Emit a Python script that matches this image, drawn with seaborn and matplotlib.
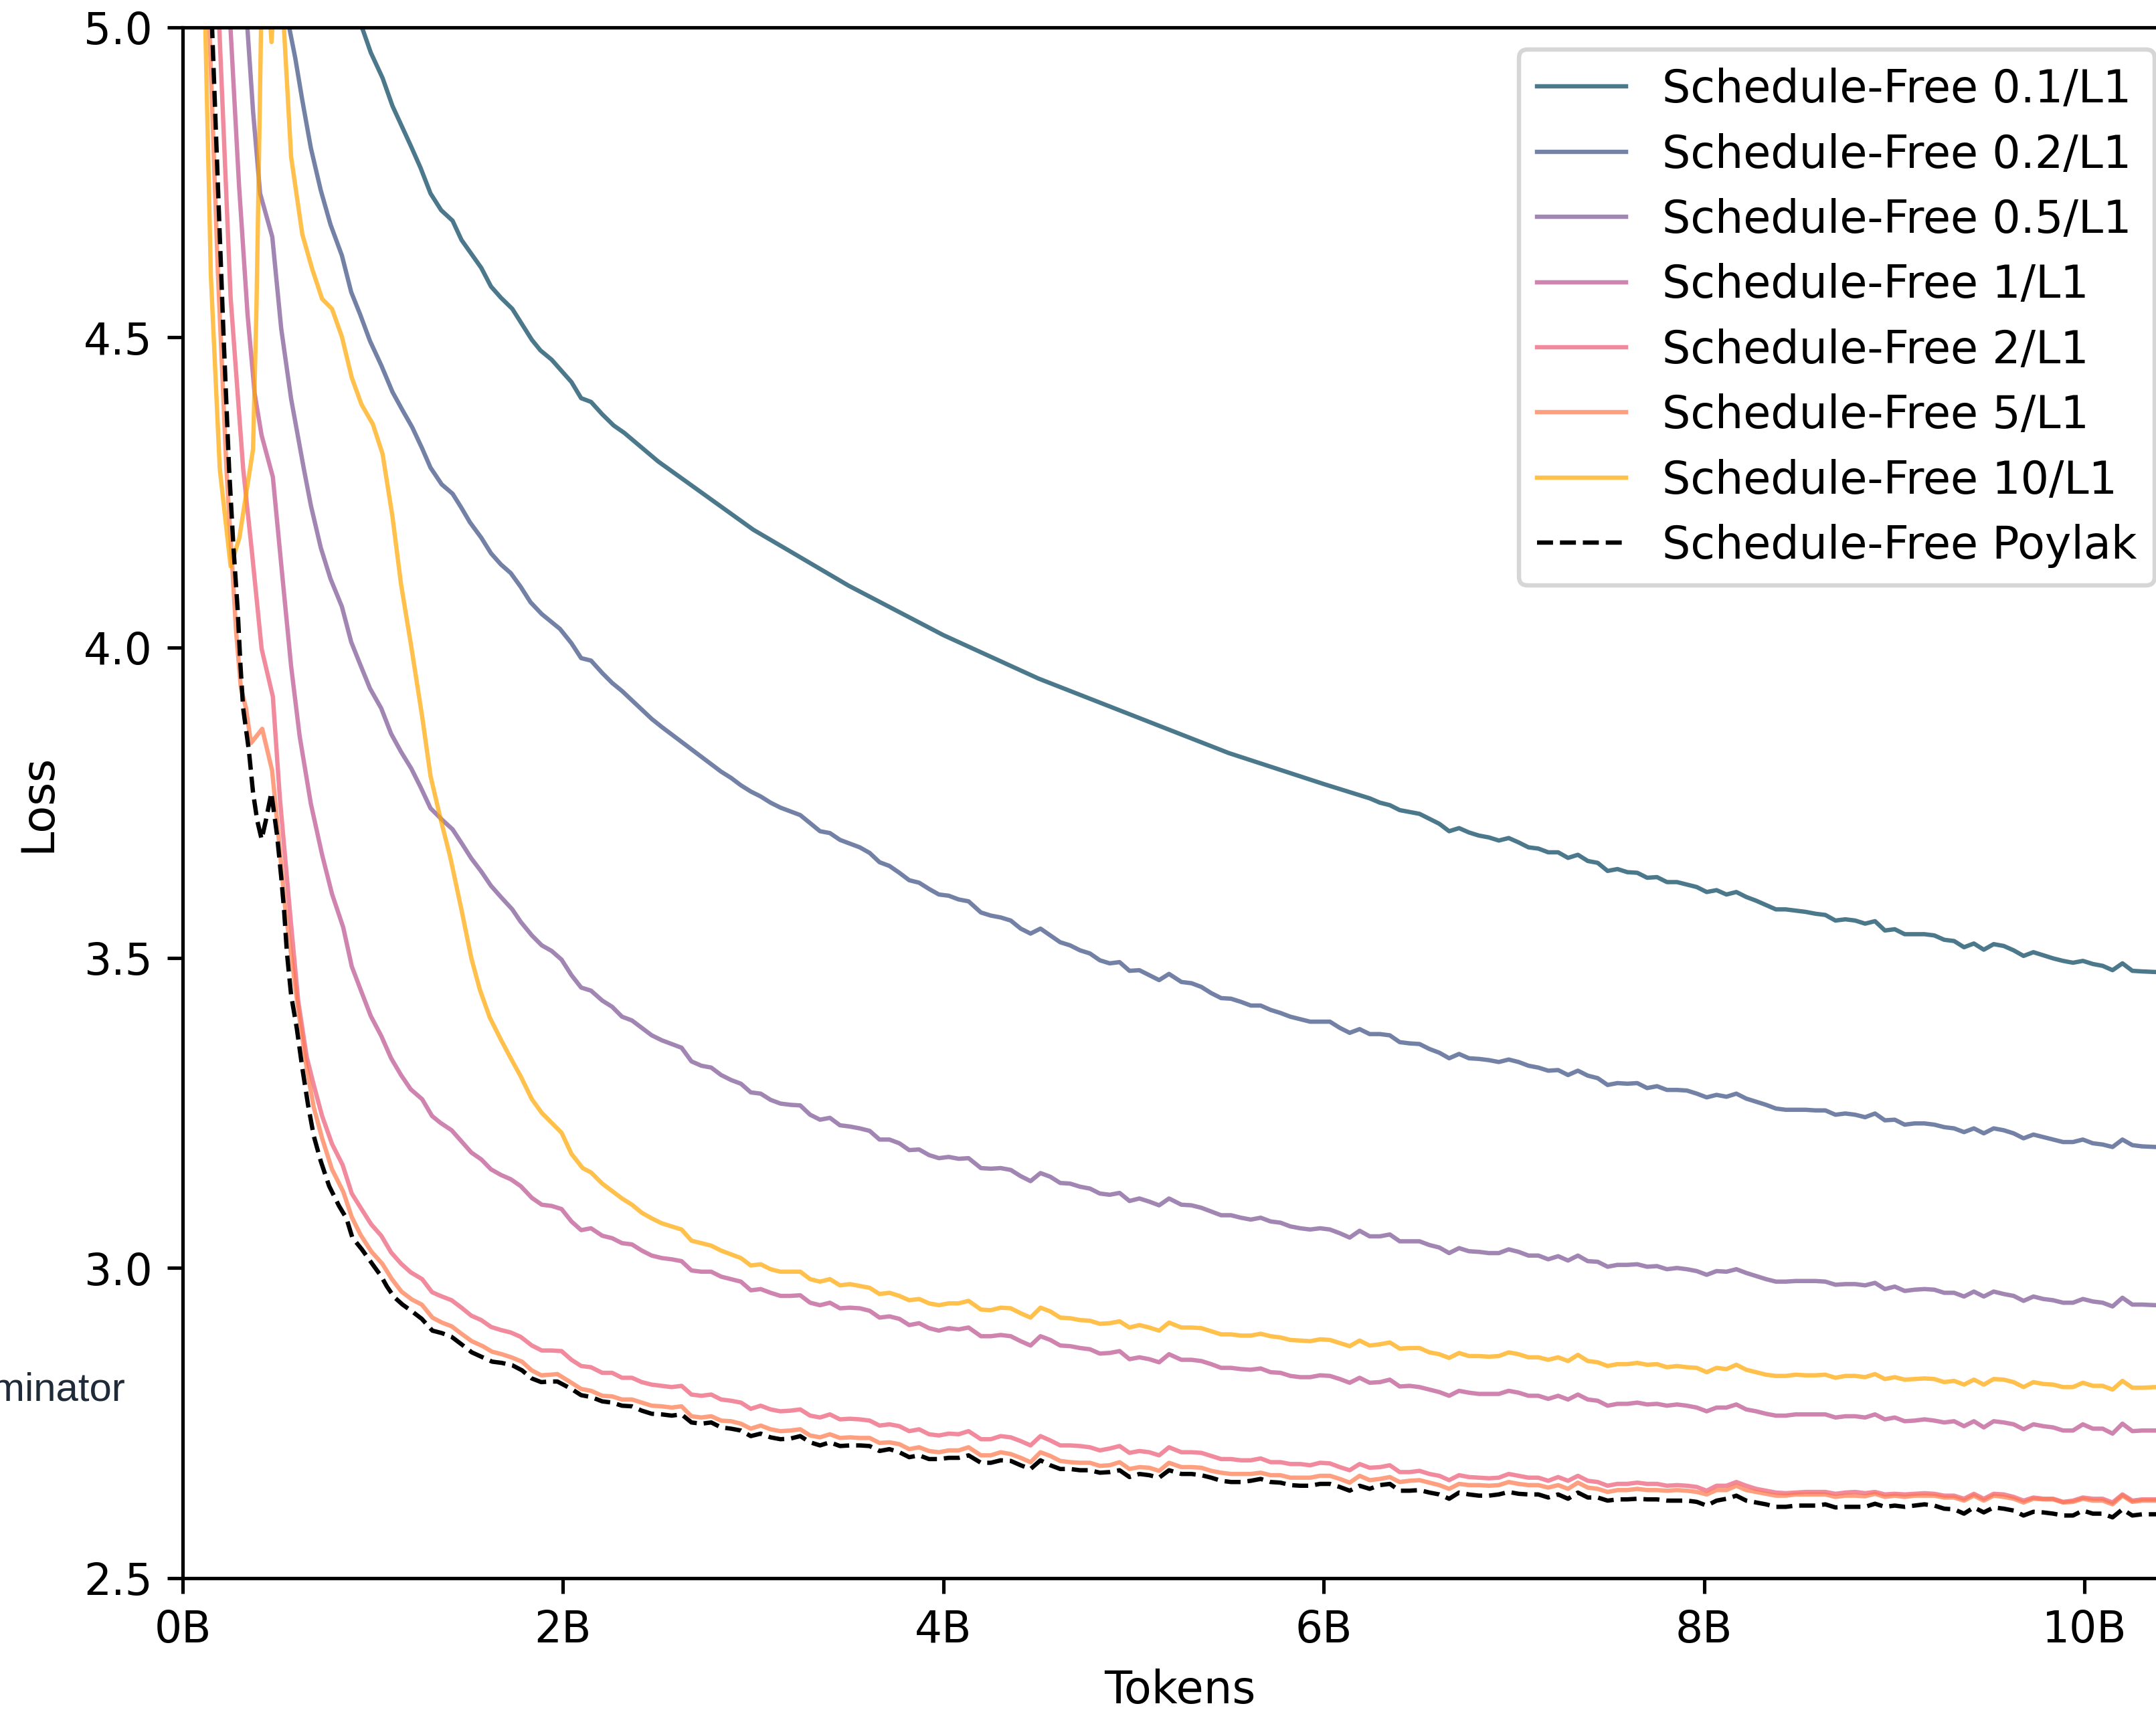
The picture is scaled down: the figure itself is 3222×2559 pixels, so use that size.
import matplotlib
matplotlib.use("Agg")
import matplotlib.pyplot as plt
import numpy as np
import pandas as pd
import seaborn as sns

# ---------------------------------------------------------------- data
LABELS = [
    "Schedule-Free 0.1/L1",
    "Schedule-Free 0.2/L1",
    "Schedule-Free 0.5/L1",
    "Schedule-Free 1/L1",
    "Schedule-Free 2/L1",
    "Schedule-Free 5/L1",
    "Schedule-Free 10/L1",
    "Schedule-Free Poylak",
]

# evaluation points (billions of tokens) shared by the later part of every run
TOKENS_A = [2.206, 2.258, 2.310, 2.362, 2.414, 2.466, 2.519, 2.571, 2.623, 2.675,
            2.727, 2.779, 2.831, 2.883, 2.935, 2.987, 3.039, 3.091, 3.143, 3.195,
            3.247, 3.299, 3.351, 3.403, 3.456, 3.508, 3.560, 3.612, 3.664, 3.716,
            3.768, 3.820, 3.872, 3.924, 3.976, 4.028, 4.080, 4.132,
            4.197, 4.249, 4.301, 4.354, 4.406, 4.458, 4.510, 4.562, 4.614, 4.666,
            4.718, 4.770, 4.822, 4.874, 4.926, 4.978, 5.030, 5.082, 5.134, 5.186,
            5.251, 5.304, 5.356, 5.408, 5.460, 5.512, 5.564, 5.616, 5.668, 5.720,
            5.772, 5.824, 5.876, 5.928, 5.980, 6.032, 6.084, 6.136, 6.188, 6.241]
TOKENS_B = [6.295, 6.347, 6.399, 6.451, 6.503, 6.555, 6.607, 6.659, 6.711, 6.763,
            6.815, 6.868, 6.920, 6.972, 7.024, 7.076, 7.128, 7.180, 7.232, 7.284,
            7.336, 7.388, 7.440, 7.492, 7.544, 7.596, 7.648, 7.700, 7.752, 7.804,
            7.857, 7.909, 7.961, 8.013, 8.065, 8.117, 8.169, 8.221, 8.273, 8.325,
            8.377, 8.429, 8.481, 8.533, 8.585, 8.637, 8.690, 8.742, 8.794, 8.846,
            8.898, 8.950, 9.002, 9.054, 9.106, 9.158, 9.210, 9.262, 9.314, 9.366,
            9.418, 9.470, 9.522, 9.575, 9.627, 9.679, 9.731, 9.783, 9.835, 9.887,
            9.939, 9.991, 10.043, 10.095, 10.147, 10.199, 10.251, 10.303, 10.376]

# ---- Schedule-Free 0.1/L1
lr01_early_x = [0.896, 0.948, 0.989, 1.051, 1.103, 1.199, 1.251, 1.303, 1.359, 1.419,
                1.466, 1.570, 1.621, 1.673, 1.733, 1.836, 1.881, 1.940, 2.044, 2.095, 2.147]
lr01_early_y = [5.03, 4.995, 4.959, 4.918, 4.873, 4.809, 4.773, 4.732, 4.705, 4.688,
                4.657, 4.612, 4.582, 4.564, 4.546, 4.496, 4.479, 4.464, 4.428, 4.402, 4.396]
lr01_mid_x = [2.206, 2.266, 2.322, 2.5, 2.75, 3.0, 3.25, 3.5, 3.75, 4.0, 4.25, 4.5,
              4.75, 5.0, 5.25, 5.5, 5.75, 6.0, 6.241]
lr01_mid_y = [4.376, 4.358, 4.346, 4.30, 4.245, 4.19, 4.145, 4.10, 4.06, 4.02, 3.985,
              3.95, 3.92, 3.89, 3.86, 3.83, 3.805, 3.78, 3.757]
lr01_late = [3.750, 3.746, 3.738, 3.735, 3.732, 3.724, 3.716, 3.704, 3.709, 3.702,
             3.697, 3.694, 3.689, 3.693, 3.686, 3.678, 3.676, 3.670, 3.670, 3.661,
             3.666, 3.656, 3.653, 3.640, 3.643, 3.638, 3.637, 3.629, 3.630, 3.622,
             3.622, 3.618, 3.614, 3.606, 3.609, 3.602, 3.606, 3.598, 3.592, 3.585,
             3.578, 3.578, 3.576, 3.574, 3.571, 3.569, 3.560, 3.562, 3.560, 3.555,
             3.559, 3.544, 3.546, 3.538, 3.538, 3.538, 3.536, 3.529, 3.527, 3.517,
             3.523, 3.513, 3.522, 3.519, 3.512, 3.503, 3.509, 3.504, 3.499, 3.495,
             3.492, 3.495, 3.490, 3.487, 3.480, 3.491, 3.479, 3.478, 3.477]

# ---- Schedule-Free 0.2/L1
lr02_early_x = [0.52, 0.563, 0.592, 0.629, 0.674, 0.726, 0.777, 0.837, 0.886, 0.933,
                0.985, 1.044, 1.103, 1.155, 1.207, 1.259, 1.303, 1.362, 1.419, 1.466,
                1.510, 1.570, 1.621, 1.673, 1.725, 1.777, 1.829, 1.888, 1.932, 1.984,
                2.044, 2.095, 2.147]
lr02_early_y = [5.06, 4.995, 4.950, 4.882, 4.805, 4.737, 4.682, 4.632, 4.573, 4.537,
                4.494, 4.455, 4.412, 4.383, 4.355, 4.321, 4.290, 4.263, 4.248, 4.225,
                4.202, 4.177, 4.152, 4.134, 4.120, 4.098, 4.073, 4.054, 4.043, 4.030,
                4.007, 3.983, 3.979]
lr02_mid = [3.959, 3.943, 3.930, 3.915, 3.900, 3.885, 3.872, 3.860, 3.848, 3.836,
            3.824, 3.812, 3.800, 3.790, 3.778, 3.768, 3.760]
lr02_a = [3.750, 3.742, 3.736, 3.730, 3.717, 3.704, 3.701, 3.690, 3.684, 3.678,
          3.669, 3.654, 3.648, 3.637, 3.625, 3.621, 3.611, 3.602, 3.600, 3.594, 3.591,
          3.573, 3.568, 3.565, 3.560, 3.547, 3.539, 3.547, 3.536, 3.525, 3.520,
          3.512, 3.507, 3.496, 3.491, 3.493, 3.479, 3.480, 3.472, 3.464, 3.474,
          3.461, 3.459, 3.453, 3.443, 3.435, 3.434, 3.429, 3.423, 3.423, 3.416,
          3.411, 3.405, 3.401, 3.397, 3.397, 3.397, 3.387, 3.379, 3.385, 3.377]
lr02_late = [3.377, 3.375, 3.364, 3.362, 3.361, 3.353, 3.347, 3.338, 3.345, 3.338,
             3.337, 3.335, 3.332, 3.336, 3.332, 3.326, 3.323, 3.318, 3.319, 3.311,
             3.318, 3.310, 3.306, 3.295, 3.298, 3.297, 3.298, 3.290, 3.293, 3.287,
             3.287, 3.286, 3.281, 3.275, 3.279, 3.276, 3.281, 3.273, 3.268, 3.263,
             3.257, 3.255, 3.255, 3.255, 3.254, 3.254, 3.247, 3.249, 3.247, 3.243,
             3.249, 3.238, 3.239, 3.231, 3.233, 3.233, 3.231, 3.227, 3.225, 3.219,
             3.225, 3.217, 3.225, 3.222, 3.217, 3.209, 3.215, 3.211, 3.207, 3.203,
             3.203, 3.207, 3.201, 3.199, 3.195, 3.207, 3.198, 3.196, 3.195]

# ---- Schedule-Free 0.5/L1
lr05_early_x = [0.30, 0.341, 0.370, 0.407, 0.471, 0.518, 0.570, 0.637, 0.674, 0.726,
                0.777, 0.837, 0.886, 0.933, 0.985, 1.044, 1.096, 1.148, 1.202, 1.251,
                1.303, 1.362, 1.419, 1.466, 1.518, 1.570, 1.621, 1.673, 1.733, 1.777,
                1.836, 1.888, 1.940, 1.992, 2.044, 2.095, 2.147]
lr05_early_y = [5.15, 4.995, 4.864, 4.732, 4.662, 4.514, 4.401, 4.288, 4.229, 4.161,
                4.111, 4.066, 4.009, 3.973, 3.934, 3.902, 3.861, 3.832, 3.805, 3.775,
                3.741, 3.723, 3.707, 3.685, 3.660, 3.639, 3.616, 3.598, 3.578, 3.558,
                3.536, 3.520, 3.511, 3.497, 3.472, 3.452, 3.447]
lr05_a = [3.431, 3.421, 3.405, 3.399, 3.387, 3.375, 3.367, 3.361, 3.355, 3.333,
          3.326, 3.323, 3.311, 3.303, 3.297, 3.283, 3.281, 3.271, 3.265, 3.263,
          3.262, 3.247, 3.239, 3.242, 3.230, 3.228, 3.225, 3.221, 3.207, 3.207,
          3.201, 3.190, 3.191, 3.182, 3.177, 3.179, 3.176, 3.177,
          3.161, 3.160, 3.161, 3.158, 3.148, 3.140, 3.153, 3.147, 3.137, 3.136,
          3.131, 3.128, 3.120, 3.118, 3.121, 3.108, 3.112, 3.107, 3.101, 3.112,
          3.102, 3.101, 3.097, 3.091, 3.085, 3.085, 3.081, 3.078, 3.081, 3.075,
          3.073, 3.067, 3.064, 3.062, 3.064, 3.062, 3.056, 3.049, 3.060, 3.051]
lr05_late = [3.051, 3.054, 3.043, 3.043, 3.043, 3.037, 3.033, 3.024, 3.032, 3.027,
             3.026, 3.024, 3.024, 3.030, 3.026, 3.020, 3.020, 3.014, 3.019, 3.012,
             3.020, 3.011, 3.010, 3.002, 3.005, 3.005, 3.006, 3.002, 3.003, 2.998,
             3.000, 2.998, 2.995, 2.989, 2.995, 2.994, 2.998, 2.992, 2.987, 2.982,
             2.978, 2.978, 2.979, 2.979, 2.979, 2.978, 2.973, 2.974, 2.974, 2.972,
             2.976, 2.966, 2.970, 2.963, 2.965, 2.966, 2.965, 2.960, 2.960, 2.954,
             2.962, 2.954, 2.962, 2.958, 2.955, 2.947, 2.954, 2.950, 2.948, 2.944,
             2.944, 2.950, 2.946, 2.944, 2.938, 2.952, 2.941, 2.941, 2.940]

# ---- Schedule-Free 1/L1
lr1_early_x = [0.21, 0.252, 0.296, 0.341, 0.378, 0.415, 0.474, 0.518, 0.570, 0.615,
               0.674, 0.733, 0.785, 0.844, 0.889, 0.940, 0.989, 1.044, 1.096, 1.148,
               1.199, 1.259, 1.311, 1.355, 1.414, 1.466, 1.518, 1.570, 1.621, 1.673,
               1.725, 1.777, 1.836, 1.888, 1.940, 1.992, 2.044, 2.095, 2.147]
lr1_early_y = [5.2, 4.995, 4.746, 4.537, 4.410, 4.342, 4.275, 4.134, 3.970, 3.857,
               3.748, 3.666, 3.603, 3.549, 3.486, 3.445, 3.406, 3.374, 3.338, 3.311,
               3.288, 3.272, 3.245, 3.234, 3.222, 3.204, 3.186, 3.175, 3.159, 3.150,
               3.143, 3.132, 3.113, 3.102, 3.100, 3.095, 3.075, 3.061, 3.064]
lr1_a = [3.052, 3.048, 3.040, 3.038, 3.028, 3.020, 3.016, 3.014, 3.011, 2.996,
         2.994, 2.994, 2.986, 2.982, 2.978, 2.964, 2.966, 2.960, 2.955, 2.955,
         2.956, 2.944, 2.940, 2.944, 2.935, 2.936, 2.935, 2.931, 2.920, 2.922,
         2.918, 2.908, 2.911, 2.903, 2.899, 2.903, 2.901, 2.904,
         2.890, 2.890, 2.892, 2.890, 2.882, 2.875, 2.890, 2.884, 2.875, 2.874,
         2.871, 2.869, 2.862, 2.863, 2.866, 2.853, 2.856, 2.853, 2.848, 2.861,
         2.852, 2.852, 2.850, 2.845, 2.839, 2.839, 2.837, 2.836, 2.838, 2.832,
         2.831, 2.826, 2.824, 2.824, 2.827, 2.826, 2.821, 2.815, 2.823, 2.815]
lr1_late = [2.816, 2.820, 2.809, 2.810, 2.808, 2.804, 2.800, 2.794, 2.802, 2.799,
            2.797, 2.797, 2.797, 2.802, 2.799, 2.794, 2.794, 2.789, 2.794, 2.788,
            2.796, 2.788, 2.786, 2.778, 2.781, 2.781, 2.783, 2.780, 2.781, 2.778,
            2.780, 2.778, 2.775, 2.769, 2.775, 2.775, 2.780, 2.772, 2.769, 2.765,
            2.762, 2.762, 2.764, 2.764, 2.764, 2.764, 2.759, 2.761, 2.761, 2.759,
            2.764, 2.756, 2.759, 2.753, 2.754, 2.756, 2.754, 2.751, 2.753, 2.745,
            2.753, 2.743, 2.753, 2.751, 2.748, 2.740, 2.748, 2.745, 2.743, 2.738,
            2.738, 2.748, 2.741, 2.741, 2.733, 2.749, 2.737, 2.738, 2.738]

# ---- Schedule-Free 2/L1
lr2_early_x = [0.15, 0.193, 0.252, 0.318, 0.363, 0.415, 0.474, 0.511, 0.563, 0.607,
               0.652, 0.689, 0.733, 0.785, 0.841, 0.889, 0.940, 0.992, 1.044, 1.096,
               1.148, 1.199, 1.259, 1.311, 1.355, 1.414, 1.466, 1.518, 1.570, 1.621,
               1.673, 1.725, 1.777, 1.836, 1.888, 1.940, 1.992, 2.044, 2.095, 2.147]
lr2_early_y = [5.25, 4.995, 4.564, 4.288, 4.157, 3.998, 3.921, 3.757, 3.577, 3.431,
               3.340, 3.295, 3.245, 3.200, 3.166, 3.120, 3.095, 3.070, 3.052, 3.025,
               3.007, 2.993, 2.982, 2.961, 2.955, 2.948, 2.936, 2.923, 2.916, 2.905,
               2.900, 2.896, 2.889, 2.875, 2.867, 2.867, 2.866, 2.852, 2.842, 2.840]
lr2_a = [2.831, 2.831, 2.823, 2.823, 2.816, 2.812, 2.810, 2.808, 2.810, 2.796,
         2.794, 2.796, 2.788, 2.786, 2.783, 2.773, 2.778, 2.772, 2.769, 2.770,
         2.772, 2.762, 2.759, 2.764, 2.756, 2.757, 2.756, 2.754, 2.746, 2.748,
         2.745, 2.737, 2.740, 2.732, 2.730, 2.733, 2.732, 2.737,
         2.724, 2.724, 2.729, 2.727, 2.721, 2.714, 2.729, 2.722, 2.714, 2.714,
         2.713, 2.711, 2.706, 2.709, 2.713, 2.702, 2.705, 2.703, 2.698, 2.711,
         2.703, 2.703, 2.702, 2.697, 2.692, 2.692, 2.690, 2.690, 2.693, 2.687,
         2.687, 2.684, 2.684, 2.682, 2.686, 2.685, 2.679, 2.674, 2.684, 2.678]
lr2_late = [2.679, 2.682, 2.671, 2.671, 2.673, 2.668, 2.665, 2.658, 2.666, 2.663,
            2.662, 2.661, 2.662, 2.668, 2.665, 2.662, 2.662, 2.657, 2.663, 2.657,
            2.665, 2.657, 2.655, 2.649, 2.652, 2.652, 2.654, 2.652, 2.652, 2.649,
            2.650, 2.649, 2.647, 2.641, 2.649, 2.649, 2.655, 2.649, 2.644, 2.641,
            2.638, 2.637, 2.638, 2.639, 2.639, 2.639, 2.636, 2.638, 2.639, 2.637,
            2.639, 2.635, 2.636, 2.635, 2.636, 2.637, 2.636, 2.633, 2.633, 2.628,
            2.636, 2.628, 2.636, 2.635, 2.631, 2.625, 2.630, 2.628, 2.628, 2.623,
            2.625, 2.630, 2.628, 2.628, 2.622, 2.635, 2.625, 2.627, 2.627]

# ---- Schedule-Free 5/L1
lr5_early_x = [0.10, 0.141, 0.185, 0.230, 0.259, 0.281, 0.306, 0.333, 0.359, 0.418,
               0.470, 0.489, 0.540, 0.607, 0.652, 0.689, 0.733, 0.785, 0.844, 0.889,
               0.936, 0.993, 1.049, 1.100, 1.150, 1.206, 1.257, 1.313, 1.363, 1.414,
               1.470, 1.520, 1.577, 1.627, 1.678, 1.728, 1.784, 1.835, 1.885, 1.935,
               1.970, 2.044, 2.095, 2.147]
lr5_early_y = [5.3, 4.995, 4.605, 4.288, 4.138, 4.025, 3.935, 3.902, 3.846, 3.869,
               3.802, 3.744, 3.577, 3.418, 3.322, 3.259, 3.209, 3.159, 3.123, 3.082,
               3.053, 3.026, 3.007, 2.982, 2.962, 2.949, 2.941, 2.920, 2.912, 2.906,
               2.893, 2.882, 2.874, 2.865, 2.861, 2.856, 2.849, 2.835, 2.827, 2.828,
               2.829, 2.815, 2.805, 2.802]
lr5_a = [2.794, 2.793, 2.788, 2.788, 2.783, 2.778, 2.777, 2.775, 2.777, 2.761,
         2.759, 2.761, 2.754, 2.753, 2.749, 2.741, 2.746, 2.740, 2.737, 2.738,
         2.740, 2.730, 2.727, 2.732, 2.726, 2.727, 2.726, 2.726, 2.718, 2.719,
         2.716, 2.708, 2.711, 2.705, 2.703, 2.706, 2.706, 2.711,
         2.698, 2.698, 2.703, 2.700, 2.694, 2.687, 2.703, 2.697, 2.689, 2.687,
         2.686, 2.686, 2.681, 2.682, 2.687, 2.676, 2.679, 2.678, 2.673, 2.686,
         2.679, 2.679, 2.678, 2.673, 2.670, 2.668, 2.668, 2.668, 2.670, 2.666,
         2.666, 2.662, 2.662, 2.662, 2.665, 2.665, 2.660, 2.654, 2.665, 2.658]
lr5_late = [2.660, 2.663, 2.655, 2.657, 2.658, 2.654, 2.650, 2.644, 2.652, 2.650,
            2.650, 2.649, 2.650, 2.655, 2.652, 2.650, 2.650, 2.646, 2.650, 2.644,
            2.654, 2.646, 2.644, 2.639, 2.642, 2.642, 2.644, 2.642, 2.642, 2.641,
            2.642, 2.641, 2.639, 2.635, 2.642, 2.642, 2.649, 2.642, 2.639, 2.636,
            2.633, 2.633, 2.635, 2.635, 2.635, 2.635, 2.631, 2.633, 2.633, 2.632,
            2.636, 2.631, 2.633, 2.631, 2.633, 2.633, 2.633, 2.630, 2.630, 2.625,
            2.633, 2.625, 2.633, 2.631, 2.628, 2.622, 2.628, 2.627, 2.627, 2.622,
            2.623, 2.628, 2.625, 2.625, 2.619, 2.633, 2.623, 2.625, 2.625]

# ---- Schedule-Free 10/L1
lr10_early_x = [0.08, 0.119, 0.148, 0.195, 0.252, 0.298, 0.355, 0.370, 0.388, 0.400,
                0.412, 0.44, 0.467, 0.49, 0.533, 0.570, 0.629, 0.681, 0.733, 0.785,
                0.837, 0.889, 0.940, 1.000, 1.051, 1.103, 1.148, 1.199, 1.259, 1.303,
                1.355, 1.407, 1.466, 1.518, 1.562, 1.614, 1.673, 1.725, 1.777, 1.836,
                1.888, 1.940, 1.992, 2.044, 2.103, 2.147]
lr10_early_y = [5.3, 5.0, 4.60, 4.288, 4.131, 4.177, 4.29, 4.32, 4.55, 4.77,
                5.0, 5.1, 4.976, 5.1, 4.995, 4.791, 4.666, 4.610, 4.562, 4.546,
                4.501, 4.435, 4.392, 4.360, 4.312, 4.211, 4.102, 4.007, 3.889, 3.793,
                3.725, 3.662, 3.577, 3.499, 3.449, 3.404, 3.368, 3.338, 3.309, 3.272,
                3.250, 3.234, 3.218, 3.184, 3.161, 3.154]
lr10_a = [3.136, 3.124, 3.112, 3.102, 3.089, 3.080, 3.072, 3.067, 3.062, 3.044,
          3.040, 3.036, 3.028, 3.022, 3.016, 3.004, 3.006, 2.998, 2.994, 2.994,
          2.994, 2.982, 2.978, 2.982, 2.972, 2.974, 2.971, 2.968, 2.958, 2.960,
          2.955, 2.948, 2.950, 2.943, 2.940, 2.943, 2.943, 2.947,
          2.933, 2.932, 2.936, 2.935, 2.927, 2.920, 2.936, 2.930, 2.920, 2.919,
          2.916, 2.915, 2.910, 2.911, 2.914, 2.904, 2.908, 2.904, 2.899, 2.912,
          2.904, 2.904, 2.903, 2.898, 2.893, 2.893, 2.891, 2.891, 2.894, 2.890,
          2.888, 2.884, 2.883, 2.882, 2.885, 2.884, 2.879, 2.874, 2.883, 2.875]
lr10_late = [2.877, 2.880, 2.870, 2.871, 2.871, 2.864, 2.861, 2.855, 2.863, 2.858,
             2.858, 2.857, 2.858, 2.864, 2.861, 2.856, 2.856, 2.852, 2.856, 2.850,
             2.860, 2.850, 2.848, 2.842, 2.845, 2.845, 2.847, 2.844, 2.845, 2.840,
             2.842, 2.840, 2.839, 2.832, 2.839, 2.837, 2.844, 2.836, 2.832, 2.828,
             2.826, 2.826, 2.828, 2.827, 2.827, 2.828, 2.823, 2.826, 2.826, 2.824,
             2.829, 2.821, 2.824, 2.820, 2.821, 2.822, 2.821, 2.816, 2.818, 2.812,
             2.820, 2.812, 2.821, 2.820, 2.816, 2.808, 2.816, 2.813, 2.812, 2.808,
             2.808, 2.815, 2.810, 2.810, 2.804, 2.818, 2.807, 2.807, 2.808]

# ---- Schedule-Free Poylak
poly_early_x = [0.11, 0.155, 0.185, 0.215, 0.244, 0.267, 0.289, 0.304, 0.318, 0.348,
                0.370, 0.392, 0.415, 0.437, 0.466, 0.496, 0.518, 0.533, 0.548, 0.570,
                0.600, 0.629, 0.659, 0.689, 0.726, 0.770, 0.822, 0.861, 0.892, 0.942,
                1.005, 1.043, 1.074, 1.112, 1.156, 1.206, 1.257, 1.313, 1.363, 1.414,
                1.470, 1.520, 1.577, 1.627, 1.678, 1.734, 1.784, 1.835, 1.885, 1.935,
                1.970, 2.044, 2.095, 2.147]
poly_early_y = [5.3, 4.995, 4.746, 4.501, 4.288, 4.161, 4.061, 3.970, 3.902, 3.834,
                3.766, 3.721, 3.691, 3.721, 3.766, 3.698, 3.630, 3.577, 3.508, 3.440,
                3.386, 3.322, 3.263, 3.213, 3.172, 3.132, 3.100, 3.080, 3.049, 3.030,
                3.003, 2.987, 2.970, 2.953, 2.941, 2.930, 2.918, 2.899, 2.895, 2.889,
                2.876, 2.864, 2.856, 2.849, 2.847, 2.843, 2.835, 2.822, 2.816, 2.817,
                2.817, 2.805, 2.795, 2.792]
poly_a = [2.785, 2.783, 2.778, 2.777, 2.770, 2.765, 2.764, 2.762, 2.764, 2.751,
          2.749, 2.751, 2.743, 2.741, 2.738, 2.729, 2.733, 2.727, 2.724, 2.725,
          2.729, 2.719, 2.714, 2.719, 2.713, 2.714, 2.714, 2.713, 2.705, 2.708,
          2.703, 2.695, 2.698, 2.692, 2.692, 2.694, 2.694, 2.698,
          2.686, 2.686, 2.690, 2.689, 2.682, 2.676, 2.690, 2.682, 2.676, 2.676,
          2.674, 2.674, 2.670, 2.671, 2.674, 2.663, 2.668, 2.666, 2.662, 2.674,
          2.668, 2.668, 2.666, 2.662, 2.657, 2.655, 2.655, 2.657, 2.660, 2.655,
          2.654, 2.650, 2.649, 2.649, 2.652, 2.652, 2.647, 2.641, 2.649, 2.644]
poly_late = [2.650, 2.652, 2.641, 2.641, 2.642, 2.638, 2.635, 2.628, 2.638, 2.635,
             2.633, 2.633, 2.635, 2.639, 2.636, 2.635, 2.635, 2.630, 2.635, 2.628,
             2.638, 2.630, 2.630, 2.625, 2.627, 2.627, 2.628, 2.627, 2.627, 2.625,
             2.625, 2.625, 2.623, 2.617, 2.625, 2.628, 2.633, 2.625, 2.622, 2.619,
             2.615, 2.615, 2.617, 2.617, 2.617, 2.619, 2.614, 2.615, 2.615, 2.615,
             2.620, 2.615, 2.617, 2.615, 2.617, 2.619, 2.617, 2.612, 2.611, 2.604,
             2.614, 2.606, 2.614, 2.612, 2.609, 2.601, 2.607, 2.606, 2.604, 2.601,
             2.601, 2.609, 2.604, 2.604, 2.598, 2.611, 2.601, 2.603, 2.603]

X_TICKS = [0, 2, 4, 6, 8, 10]
X_TICK_LABELS = ["0B", "2B", "4B", "6B", "8B", "10B"]
Y_TICKS = [2.5, 3.0, 3.5, 4.0, 4.5, 5.0]

BASE_COLORS = ["#003f5c", "#2f4b7c", "#665191", "#a05195",
               "#d45087", "#f95d6a", "#ff7c43", "#ffa600"]

# ---------------------------------------------------------------- assemble
runs = [
    (lr01_early_x + lr01_mid_x + TOKENS_B, lr01_early_y + lr01_mid_y + lr01_late),
    (lr02_early_x + TOKENS_A + TOKENS_B, lr02_early_y + lr02_mid + lr02_a + lr02_late),
    (lr05_early_x + TOKENS_A + TOKENS_B, lr05_early_y + lr05_a + lr05_late),
    (lr1_early_x + TOKENS_A + TOKENS_B, lr1_early_y + lr1_a + lr1_late),
    (lr2_early_x + TOKENS_A + TOKENS_B, lr2_early_y + lr2_a + lr2_late),
    (lr5_early_x + TOKENS_A + TOKENS_B, lr5_early_y + lr5_a + lr5_late),
    (lr10_early_x + TOKENS_A + TOKENS_B, lr10_early_y + lr10_a + lr10_late),
    (poly_early_x + TOKENS_A + TOKENS_B, poly_early_y + poly_a + poly_late),
]

frames = []
for label, (xs, ys) in zip(LABELS, runs):
    assert len(xs) == len(ys), label
    frames.append(pd.DataFrame({"tokens": xs, "loss": ys, "run": label}))
df = pd.concat(frames, ignore_index=True)

palette = sns.blend_palette(BASE_COLORS, 7)

# ---------------------------------------------------------------- figure
DPI = 465
fig = plt.figure(figsize=(3222.4 / DPI, 2559.4 / DPI), dpi=DPI)
ax = fig.add_axes([273 / 3222, 1 - 2359 / 2559, 2980 / 3222, 2318 / 2559])

for i, label in enumerate(LABELS):
    sub = df[df["run"] == label]
    if i < 7:
        sns.lineplot(data=sub, x="tokens", y="loss", ax=ax, color=palette[i],
                     alpha=0.7, linewidth=1.0, label=label, sort=False,
                     estimator=None)
    else:
        sns.lineplot(data=sub, x="tokens", y="loss", ax=ax, color="black",
                     linewidth=1.0, linestyle="--", label=label, sort=False,
                     estimator=None)

ax.set_xlim(0, 10.486)
ax.set_ylim(2.5, 5.0)
ax.set_xticks(X_TICKS)
ax.set_xticklabels(X_TICK_LABELS)
ax.set_yticks(Y_TICKS)
ax.set_yticklabels([f"{v:.1f}" for v in Y_TICKS])
ax.set_xlabel("Tokens", fontsize=10.4)
ax.set_ylabel("Loss", fontsize=10.4, labelpad=5.5)
ax.legend(loc="upper right", fontsize=10.35, labelspacing=0.47)

# caption fragment from the neighbouring panel
fig.text(187 / 3222, 1 - 2093 / 2559, "Denominator", ha="right", va="baseline",
         fontsize=9.3, color="#1f2b38", family=["Liberation Sans", "DejaVu Sans"])

fig.savefig("out.png", dpi=DPI)
